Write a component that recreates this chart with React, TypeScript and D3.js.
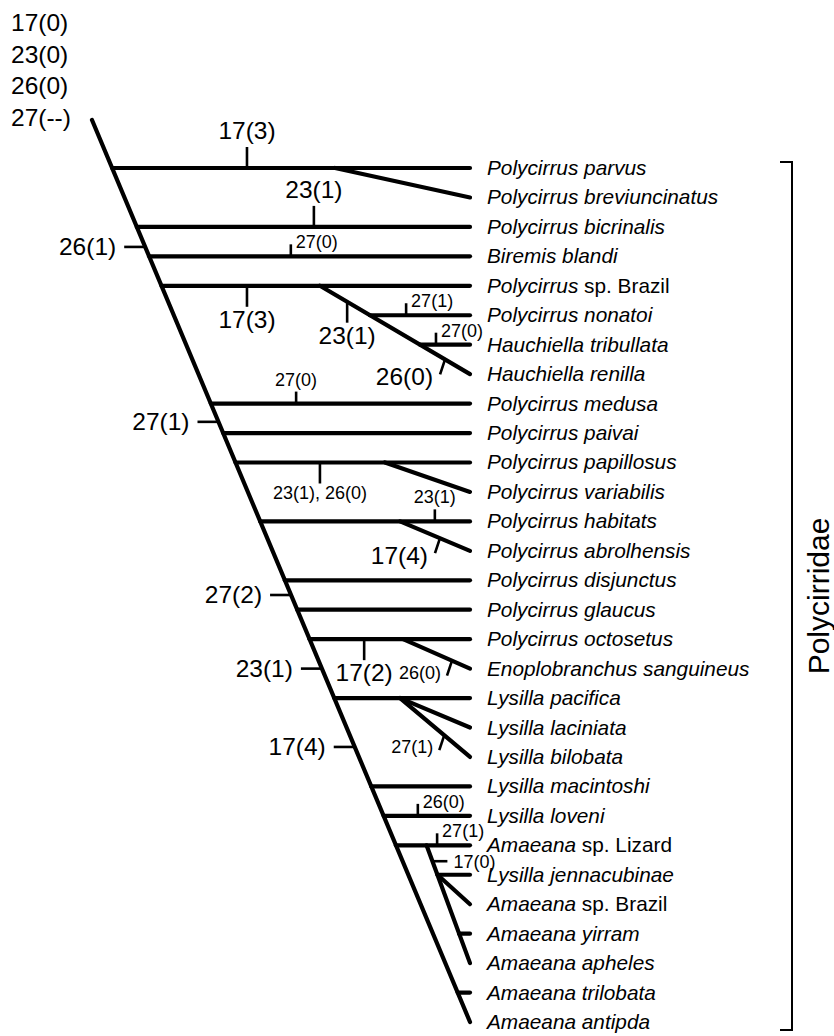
import React from "react";
import * as d3 from "d3";

// ---------- data ----------
const TAXA = [
  "Polycirrus parvus",
  "Polycirrus breviuncinatus",
  "Polycirrus bicrinalis",
  "Biremis blandi",
  "Polycirrus sp. Brazil",
  "Polycirrus nonatoi",
  "Hauchiella tribullata",
  "Hauchiella renilla",
  "Polycirrus medusa",
  "Polycirrus paivai",
  "Polycirrus papillosus",
  "Polycirrus variabilis",
  "Polycirrus habitats",
  "Polycirrus abrolhensis",
  "Polycirrus disjunctus",
  "Polycirrus glaucus",
  "Polycirrus octosetus",
  "Enoplobranchus sanguineus",
  "Lysilla pacifica",
  "Lysilla laciniata",
  "Lysilla bilobata",
  "Lysilla macintoshi",
  "Lysilla loveni",
  "Amaeana sp. Lizard",
  "Lysilla jennacubinae",
  "Amaeana sp. Brazil",
  "Amaeana yirram",
  "Amaeana apheles",
  "Amaeana trilobata",
  "Amaeana antipda",
];

const ROOT_STATES = ["17(0)", "23(0)", "26(0)", "27(--)"];
const CLADE_NAME = "Polycirridae";

// backbone: root (depth u, row v) to last tip
const BACKBONE_START = { u: 0, v: -1.63 };
const BACKBONE_END = { u: 100, v: 29 };
// rows whose branch leaves the backbone horizontally
const BACKBONE_BRANCH_ROWS = [0, 2, 3, 4, 8, 9, 10, 12, 14, 15, 16, 18, 21, 22, 23, 28];

// other edges inside subclades: [u1, v1, u2, v2]
const SUBCLADE_EDGES: number[][] = [
  [64.3, 0, 100, 1],
  [60.3, 4, 100, 7],
  [73.5, 5, 100, 5],
  [86.8, 6, 100, 6],
  [77.5, 10, 100, 11],
  [81.5, 12, 100, 13],
  [82.3, 16, 100, 17],
  [81.5, 18, 100, 19],
  [81.5, 18, 100, 20],
  [88.5, 23, 100, 27],
  [91.4, 24, 100, 24],
  [91.4, 24, 100, 25],
  [97.1, 26, 100, 26],
];

// character state changes
type Mark = { t: string; u?: number; v: number; kind: string; big: boolean };
const MARKS: Mark[] = [
  { t: "17(3)", u: 41, v: 0, kind: "up", big: true },
  { t: "23(1)", u: 58.7, v: 2, kind: "up", big: true },
  { t: "26(1)", v: 2.68, kind: "left", big: true },
  { t: "27(0)", u: 52.6, v: 3, kind: "upR", big: false },
  { t: "17(3)", u: 41, v: 4, kind: "down", big: true },
  { t: "23(1)", u: 67.5, v: 4.54, kind: "down", big: true },
  { t: "27(1)", u: 83.1, v: 5, kind: "upR", big: false },
  { t: "27(0)", u: 91, v: 6, kind: "upR", big: false },
  { t: "26(0)", u: 93.4, v: 6.5, kind: "slant", big: true },
  { t: "27(0)", u: 54, v: 8, kind: "up", big: false },
  { t: "27(1)", v: 8.62, kind: "left", big: true },
  { t: "23(1), 26(0)", u: 60.3, v: 10, kind: "down", big: false },
  { t: "23(1)", u: 90.7, v: 12, kind: "up", big: false },
  { t: "17(4)", u: 92.06, v: 12.57, kind: "slant", big: true },
  { t: "27(2)", v: 14.5, kind: "left", big: true },
  { t: "17(2)", u: 72, v: 16, kind: "down", big: true },
  { t: "26(0)", u: 95.24, v: 16.73, kind: "slant", big: false },
  { t: "23(1)", v: 17, kind: "left", big: true },
  { t: "17(4)", v: 19.66, kind: "left", big: true },
  { t: "27(1)", u: 93.2, v: 19.26, kind: "slant", big: false },
  { t: "26(0)", u: 86.2, v: 22, kind: "upR", big: false },
  { t: "27(1)", u: 91.3, v: 23, kind: "upR", big: false },
  { t: "17(0)", u: 90.05, v: 23.54, kind: "right", big: false },
];

// ---------- layout ----------
const W = 834;
const H = 1036;
const FONT = "'Liberation Sans', Arial, Helvetica, sans-serif";
const BIG = 24.5;
const SMALL = 18;
const TAXON_SIZE = 20.8;

export default function App() {
  const x = d3.scaleLinear().domain([0, 100]).range([92, 470]);
  const y = d3.scaleLinear().domain([0, TAXA.length - 1]).range([168, 1022]);
  const backboneU = d3
    .scaleLinear()
    .domain([BACKBONE_START.v, BACKBONE_END.v])
    .range([BACKBONE_START.u, BACKBONE_END.u]);

  const line = d3.line<[number, number]>().x((d) => x(d[0])).y((d) => y(d[1]));

  const edges: number[][] = [
    [BACKBONE_START.u, BACKBONE_START.v, BACKBONE_END.u, BACKBONE_END.v],
    ...BACKBONE_BRANCH_ROWS.map((r) => [backboneU(r), r, 100, r]),
    ...SUBCLADE_EDGES,
  ];

  const markEls = MARKS.map((m, i) => {
    const fs = m.big ? BIG : SMALL;
    const py = y(m.v);
    const tick = (x1: number, y1: number, x2: number, y2: number) => (
      <line x1={x1} y1={y1} x2={x2} y2={y2} stroke="#000" strokeWidth={2.6} />
    );
    if (m.kind === "left") {
      const px = x(backboneU(m.v));
      return (
        <g key={i}>
          {tick(px - 21, py, px, py)}
          <text x={px - 29} y={py + 8} fontSize={fs} textAnchor="end">{m.t}</text>
        </g>
      );
    }
    const px = x(m.u as number);
    if (m.kind === "up") {
      const len = m.big ? 21 : 12;
      return (
        <g key={i}>
          {tick(px, py - len, px, py)}
          <text x={px} y={m.big ? py - 29 : py - 18} fontSize={fs} textAnchor="middle">{m.t}</text>
        </g>
      );
    }
    if (m.kind === "upR") {
      return (
        <g key={i}>
          {tick(px, py - 12, px, py)}
          <text x={px + 5} y={py - 8} fontSize={fs}>{m.t}</text>
        </g>
      );
    }
    if (m.kind === "down") {
      return (
        <g key={i}>
          {tick(px, py, px, py + 21)}
          <text x={px} y={m.big ? py + 42 : py + 37} fontSize={fs} textAnchor="middle">{m.t}</text>
        </g>
      );
    }
    if (m.kind === "slant") {
      const ex = px - 5;
      const ey = py + 15;
      return (
        <g key={i}>
          {tick(px, py, ex, ey)}
          <text x={m.big ? ex - 7 : ex - 6} y={m.big ? ey + 11 : ey + 3} fontSize={fs} textAnchor="end">{m.t}</text>
        </g>
      );
    }
    // right
    return (
      <g key={i}>
        {tick(px, py, px + 15, py)}
        <text x={px + 21} y={py + 7} fontSize={fs}>{m.t}</text>
      </g>
    );
  });

  const bracketTop = y(0) - 6;
  const bracketBottom = y(TAXA.length - 1) + 8;
  const bracketX = 792;

  return (
    <svg width={W} height={H} style={{ display: "block", position: "absolute", left: 0, top: 0 }} fontFamily={FONT}>
      <rect width={W} height={H} fill="#fff" />
      {ROOT_STATES.map((s, i) => (
        <text key={s} x={11} y={31 + i * 31.5} fontSize={BIG}>{s}</text>
      ))}
      <g fill="none" stroke="#000" strokeWidth={4.2} strokeLinecap="round">
        {edges.map((e, i) => (
          <path key={i} d={line([[e[0], e[1]], [e[2], e[3]]]) as string} />
        ))}
      </g>
      <g fill="#000">{markEls}</g>
      <g fontSize={TAXON_SIZE}>
        {TAXA.map((name, i) => {
          const parts = name.split(" ");
          const isSp = parts[1] === "sp.";
          return (
            <text key={name} x={487} y={y(i) + 7}>
              {isSp ? (
                <>
                  <tspan fontStyle="italic">{parts[0]}</tspan>
                  <tspan>{" " + parts.slice(1).join(" ")}</tspan>
                </>
              ) : (
                <tspan fontStyle="italic">{name}</tspan>
              )}
            </text>
          );
        })}
      </g>
      <path
        d={`M${bracketX - 12},${bracketTop}H${bracketX}V${bracketBottom}H${bracketX - 12}`}
        fill="none"
        stroke="#000"
        strokeWidth={2}
      />
      <text
        transform={`translate(${829},${(bracketTop + bracketBottom) / 2}) rotate(-90)`}
        fontSize={30}
        textAnchor="middle"
      >
        {CLADE_NAME}
      </text>
    </svg>
  );
}
